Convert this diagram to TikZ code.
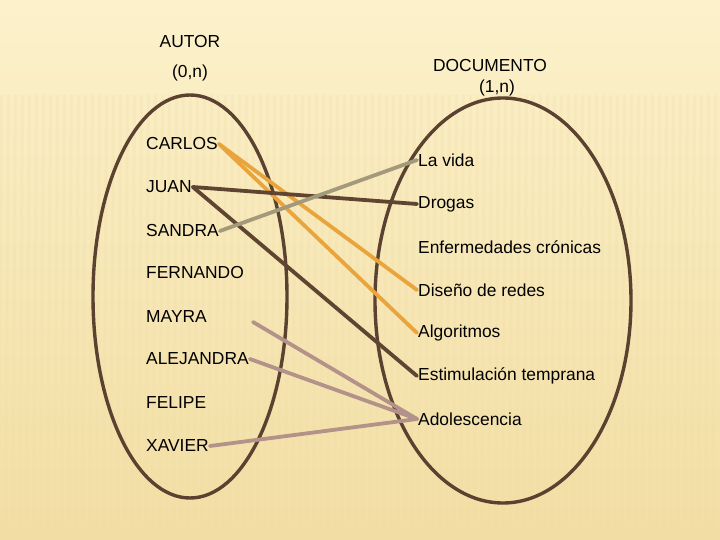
\documentclass[tikz,border=0pt]{standalone}
\usepackage{fontspec}
\setmainfont{Liberation Sans}
\definecolor{paper}{HTML}{FCF1CB}
\definecolor{paperdark}{HTML}{F2DEA4}
\definecolor{setline}{HTML}{5A4130}
\definecolor{orangeln}{HTML}{E9A53C}
\definecolor{brownln}{HTML}{5E4431}
\definecolor{tanln}{HTML}{A39A7C}
\definecolor{mauveln}{HTML}{B39289}
\tikzset{
  item/.style={anchor=west,inner sep=1pt,font=\fontsize{17.4}{20}\selectfont},
  head/.style={inner sep=1pt,font=\fontsize{17.4}{20}\selectfont},
  setring/.style={draw=setline,line width=3.4pt},
  link/.style={line width=3.8pt,line cap=round}
}

\begin{document}
\begin{tikzpicture}[x=1pt,y=-1pt]
\useasboundingbox (0,0) rectangle (720,540);
\shade[top color=paper,bottom color=paperdark] (0,0) rectangle (720,540);
\foreach \x in {0,7,...,714}
	\fill[paperdark,opacity=0.25] (\x,95) -- (\x+3,95) -- (\x,540) -- (\x-3,540) -- cycle;
%
\draw[setring] (190,296.5) ellipse [x radius=97,y radius=201.5];
\draw[setring] (503,300.5) ellipse [x radius=128,y radius=202.5];
%
\node[head] (autor) at (190,42) {AUTOR};
\node[head] (autorcard) at (190,73) {(0,n)};
\node[head] (documento) at (490,66) {DOCUMENTO};
\node[head] (doccard) at (497,88) {(1,n)};
%
\node[item] (carlos) at (145,144) {CARLOS};
\node[item] (juan) at (145,187) {JUAN};
\node[item] (sandra) at (145,231) {SANDRA};
\node[item] (fernando) at (145,273) {FERNANDO};
\node[item] (mayra) at (145,317) {MAYRA};
\node[item] (alejandra) at (145,359) {ALEJANDRA};
\node[item] (felipe) at (145,403) {FELIPE};
\node[item] (xavier) at (145,446) {XAVIER};
%
\node[item] (lavida) at (417,160) {La vida};
\node[item] (drogas) at (417,204) {Drogas};
\node[item] (enfermedades) at (417,247) {Enfermedades crónicas};
\node[item] (diseno) at (417,290) {Diseño de redes};
\node[item] (algoritmos) at (417,333) {Algoritmos};
\node[item] (estimulacion) at (417,376) {Estimulación temprana};
\node[item] (adolescencia) at (417,419) {Adolescencia};
%
\coordinate (mayratip) at (253,322);
%
\draw[link,orangeln] (carlos.east) -- (diseno.west);
\draw[link,orangeln] (carlos.east) -- (algoritmos.west);
\draw[link,brownln] (juan.east) -- (drogas.west);
\draw[link,brownln] (juan.east) -- (estimulacion.west);
\draw[link,tanln] (sandra.east) -- (lavida.west);
\draw[link,mauveln] (mayratip) -- (adolescencia.west);
\draw[link,mauveln] (alejandra.east) -- (adolescencia.west);
\draw[link,mauveln] (xavier.east) -- (adolescencia.west);
\end{tikzpicture}
\end{document}
